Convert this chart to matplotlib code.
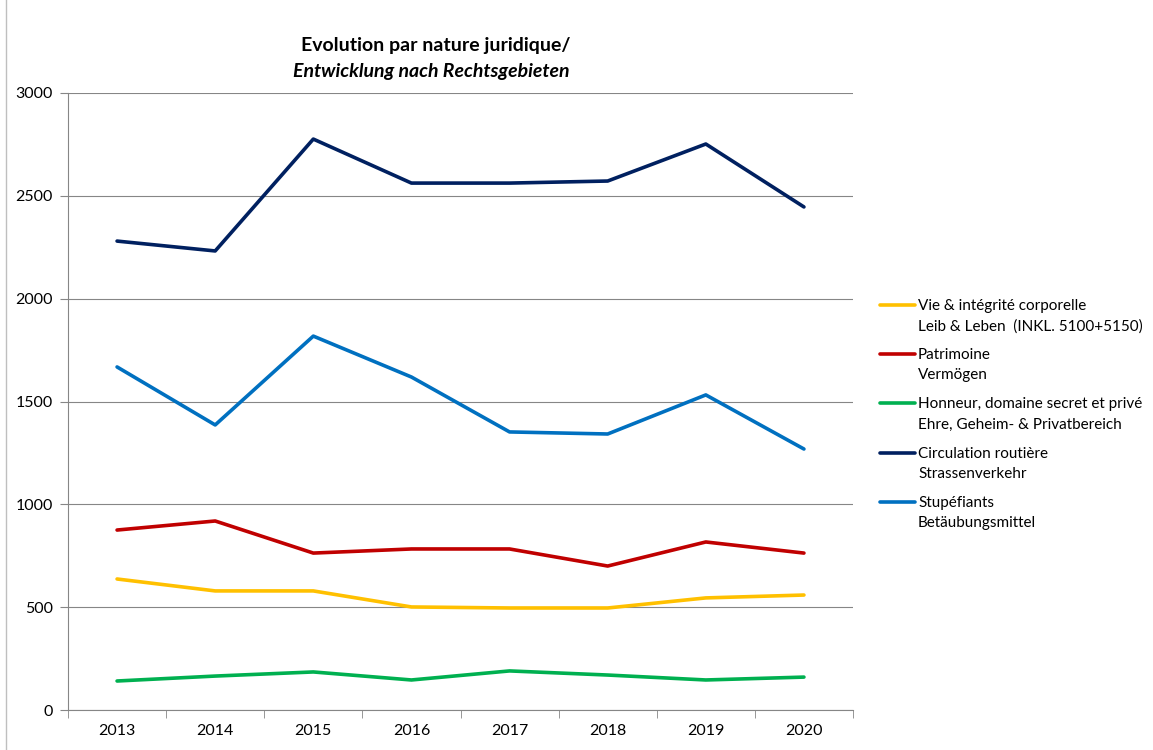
import numpy as np
import matplotlib.pyplot as plt
from matplotlib.lines import Line2D

years = ["2013", "2014", "2015", "2016", "2017", "2018", "2019", "2020"]

vie = [637, 579, 579, 501, 496, 496, 545, 559]
patrimoine = [875, 919, 763, 783, 783, 700, 817, 763]
honneur = [141, 165, 185, 146, 190, 170, 146, 160]
circulation = [2280, 2232, 2776, 2562, 2562, 2572, 2752, 2446]
stupefiants = [1668, 1386, 1818, 1619, 1352, 1342, 1532, 1269]

labels = [
    "Vie & intégrité corporelle\nLeib & Leben  (INKL. 5100+5150)",
    "Patrimoine\nVermögen",
    "Honneur, domaine secret et privé\nEhre, Geheim- & Privatbereich",
    "Circulation routière\nStrassenverkehr",
    "Stupéfiants\nBetäubungsmittel",
]
colors = ["#FFC000", "#C00000", "#00B050", "#002060", "#0070C0"]

plt.rcParams["font.family"] = ["Lato", "DejaVu Sans"]

W, H = 1153, 750


def main():
    fig = plt.figure(figsize=(W / 100, H / 100), dpi=100)
    ax = fig.add_axes([68 / W, 40 / H, 785 / W, 617 / H])

    x = np.arange(len(years))
    series = [vie, patrimoine, honneur, circulation, stupefiants]
    for values, color in zip(series, colors):
        ax.plot(x, values, color=color, lw=2.6, solid_capstyle="round",
                solid_joinstyle="round")

    ax.set_xlim(-0.5, len(years) - 0.5)
    ax.set_ylim(0, 3000)
    ax.set_yticks(range(0, 3001, 500))
    ax.set_xticks(x)
    ax.set_xticklabels(years)
    ax.set_xticks(np.arange(-0.5, len(years)), minor=True)
    ax.tick_params(axis="x", which="major", length=0, pad=10, labelsize=11.5)
    ax.tick_params(axis="x", which="minor", length=6, color="#868686")
    ax.tick_params(axis="y", length=6, color="#868686", labelsize=11.5, pad=5)
    ax.grid(axis="y", color="#868686", lw=0.8)
    ax.set_axisbelow(True)
    for side in ["top", "right"]:
        ax.spines[side].set_visible(False)
    for side in ["left", "bottom"]:
        ax.spines[side].set_color("#868686")

    fig.text(436 / W, 1 - 45 / H, "Evolution par nature juridique/",
             ha="center", va="center", fontsize=14, fontweight="bold")
    fig.text(431 / W, 1 - 71 / H, "Entwicklung nach Rechtsgebieten",
             ha="center", va="center", fontsize=14, fontweight="bold", style="italic")

    # legend drawn by hand so the key line sits on the first text line
    for i, (label, color) in enumerate(zip(labels, colors)):
        y = 305 + i * 49.2
        fig.add_artist(Line2D([880 / W, 915 / W], [1 - y / H, 1 - y / H],
                              color=color, lw=2.6, solid_capstyle="round"))
        fig.text(918 / W, 1 - (y - 6) / H, label, ha="left", va="top",
                 fontsize=11, linespacing=1.55)

    fig.add_artist(Line2D([6 / W, 6 / W], [0, 1], color="#BFBFBF", lw=1))

    fig.savefig("out.png", dpi=100)


if __name__ == "__main__":
    main()
